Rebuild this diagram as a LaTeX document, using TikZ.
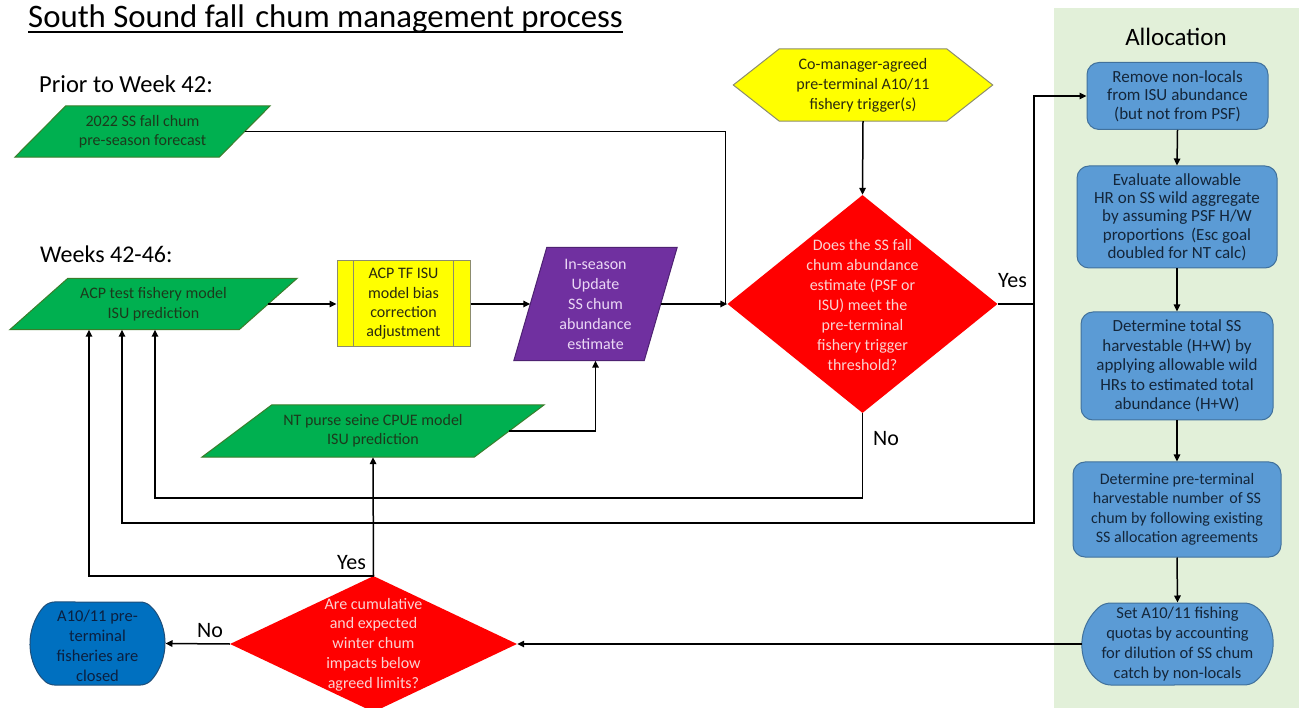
\documentclass[tikz,border=0pt]{standalone}
\usepackage{fontspec}
\setmainfont{Carlito}
\usetikzlibrary{shapes.geometric,shapes.misc,arrows.meta,backgrounds,calc}
\definecolor{gfill}{HTML}{00B050}
\definecolor{gdraw}{HTML}{3A7D2A}
\definecolor{gtext}{HTML}{1C3A1C}
\definecolor{yfill}{HTML}{FFFF00}
\definecolor{ydraw}{HTML}{8C8C6E}
\definecolor{ytext}{HTML}{2A2A10}
\definecolor{pfill}{HTML}{7030A0}
\definecolor{pdraw}{HTML}{4E2272}
\definecolor{ptext}{HTML}{EBD8F5}
\definecolor{rfill}{HTML}{FF0000}
\definecolor{rtext}{HTML}{FAD2D2}
\definecolor{bfill}{HTML}{5B9BD5}
\definecolor{bdraw}{HTML}{41719C}
\definecolor{btext}{HTML}{14263A}
\definecolor{cfill}{HTML}{0070C0}
\definecolor{cdraw}{HTML}{1F4E79}
\definecolor{ctext}{HTML}{0B2040}
\definecolor{abg}{HTML}{E2F0D9}
\newcommand\fsz[2]{\fontsize{#1}{#2}\selectfont}
\newcommand\drawpara[3]{\path[#3] ([xshift=-#2]#1.south west) -- ([xshift=#2]#1.north west) -- ([xshift=#2]#1.north east) -- ([xshift=-#2]#1.south east) -- cycle;}
\begin{document}
\begin{tikzpicture}[x=1pt,y=-1pt,
  conn/.style={draw=black,line width=1.5pt},
  arr/.style={draw=black,line width=1.5pt,-{Triangle[length=7pt,width=6.5pt]}},
  body/.style={font=\fsz{16}{19.5},align=center,inner sep=0pt},
  para/.style={body,text=gtext},
  bbox/.style={rectangle,rounded corners=12pt,fill=bfill,draw=bdraw,line width=1pt,body,text=btext},
  lbl/.style={anchor=base west,inner sep=0pt,font=\fsz{22}{26}}
]
\useasboundingbox (0,0) rectangle (1299,708);
% allocation panel
\node[anchor=north west,fill=abg,minimum width=245,minimum height=700,inner sep=0pt] (alloc) at (1054,8) {};
\node[font=\fsz{25}{30},inner sep=0pt] (alloct) at (1176,37) {Allocation};
% titles
\node[anchor=base west,inner sep=0pt,font=\fsz{32.8}{38}] (title) at (28,28) {South Sound fall\hspace{3pt} chum management process};
\draw[line width=1.5pt] ([yshift=-4pt]title.base west) -- ([yshift=-4pt]title.base east);
\node[anchor=base west,inner sep=0pt,font=\fsz{24.5}{29}] (prior) at (39,93) {Prior to Week 42:};
\node[anchor=base west,inner sep=0pt,font=\fsz{24}{29}] (weeks) at (40,263) {Weeks 42-46:};
% parallelogram nodes
\node[para,minimum width=204,minimum height=51] (fc) at (142.5,131.5) {2022 SS fall chum\\pre-season forecast};
\node[para,minimum width=229,minimum height=51] (acp) at (153.5,304) {ACP test fishery model\\ISU prediction};
\node[para,font=\fsz{16}{19},minimum width=272,minimum height=52] (nt) at (373,431) {NT purse seine CPUE model\\ISU prediction};
\node[body,text=ptext,font=\fsz{16}{20},minimum width=130,minimum height=113] (pu) at (595.5,304) {In-season\\Update\\SS chum\\abundance\\estimate};
% yellow process box
\node[body,text=ytext,font=\fsz{16}{19.3},fill=yfill,draw=ydraw,line width=1pt,minimum width=133,minimum height=86] (yb) at (403.5,304) {ACP TF ISU\\model bias\\correction\\adjustment};
\draw[draw=ydraw,line width=1pt] ([xshift=17pt]yb.north west) -- ([xshift=17pt]yb.south west) ([xshift=-17pt]yb.north east) -- ([xshift=-17pt]yb.south east);
% hexagon
\node[body,text=ytext,font=\fsz{16}{20},minimum width=167,minimum height=72] (hx) at (863,85) {Co-manager-agreed\\pre-terminal A10/11\\fishery trigger(s)};
% diamonds
\node[diamond,fill=rfill,minimum width=270,minimum height=218,inner sep=0pt] (d1) at (862.5,304) {};
\node[body,text=rtext,font=\fsz{16}{20}] (d1t) at (862.5,305) {Does the SS fall\\chum abundance\\estimate (PSF or\\ISU) meet the\\pre-terminal\\fishery trigger\\threshold?};
\node[diamond,fill=rfill,minimum width=287,minimum height=136,inner sep=0pt] (d2) at (373.5,644) {};
\node[body,text=rtext,font=\fsz{16}{19.7}] (d2t) at (373.5,644.5) {Are cumulative\\and expected\\winter chum\\impacts below\\agreed limits?};
% closed box
\node[rounded rectangle,rounded rectangle arc length=100,rounded corners=5pt,fill=cfill,draw=cdraw,line width=1pt,minimum width=135,minimum height=83,inner sep=0pt] (cl) at (97.5,643.5) {};
\node[body,text=ctext,font=\fsz{16.5}{20}] (clt) at (97.5,645.5) {A10/11 pre-\\terminal\\fisheries are\\closed};
% allocation boxes
\node[bbox,font=\fsz{17}{18.7},minimum width=181,minimum height=67] (b1) at (1177.5,96) {Remove non-locals\\from ISU abundance\\(but not from PSF)};
\node[bbox,font=\fsz{17}{18.3},minimum width=200,minimum height=102] (b2) at (1177,217) {Evaluate allowable\\HR on SS wild aggregate\\by assuming PSF H/W\\proportions\hspace{3pt} (Esc goal\\doubled for NT calc)};
\node[bbox,font=\fsz{17}{19.5},minimum width=192,minimum height=108] (b3) at (1177,366) {Determine total SS\\harvestable (H+W) by\\applying allowable wild\\HRs to estimated total\\abundance (H+W)};
\node[bbox,font=\fsz{16}{19.5},minimum width=208,minimum height=95] (b4) at (1177,509.5) {Determine pre-terminal\\harvestable number\hspace{2pt} of SS\\chum by following existing\\SS allocation agreements};
\node[rounded rectangle,rounded rectangle arc length=120,rounded corners=5pt,fill=bfill,draw=bdraw,line width=1pt,minimum width=191,minimum height=82,inner sep=0pt] (b5) at (1177.5,644) {};
\node[body,text=btext,font=\fsz{16.5}{20}] (b5t) at (1177.5,644) {Set A10/11 fishing\\quotas by accounting\\for dilution of SS chum\\catch by non-locals};
% background shapes
\begin{scope}[on background layer]
\drawpara{fc}{25.5pt}{fill=gfill,draw=gdraw,line width=1pt}
\drawpara{acp}{29pt}{fill=gfill,draw=gdraw,line width=1pt}
\drawpara{nt}{35pt}{fill=gfill,draw=gdraw,line width=1pt}
\drawpara{pu}{16.5pt}{fill=pfill,draw=pdraw,line width=1pt}
\path[fill=yfill,draw=ydraw,line width=1pt] (hx.north west) -- (hx.north east) -- ([xshift=46pt]hx.east) -- (hx.south east) -- (hx.south west) -- ([xshift=-46pt]hx.west) -- cycle;
\end{scope}
% connectors
\coordinate (yj) at (1034,304);
\coordinate (ybot) at (1034,523);
\coordinate (nbot) at (862.5,498);
\draw[arr] (hx.south) -- (d1.north);
\draw[conn] (fc.east) -| ([xshift=-2pt]d1.west);
\draw[arr] (acp.east) -- (yb.west);
\draw[arr] (yb.east) -- (pu.west);
\draw[arr] (pu.east) -- (d1.west);
\draw[arr] (d1.east) -- (yj) |- (b1.west);
\draw[arr] (yj) -- (ybot) -| ([xshift=-31.5pt]acp.south);
\draw[arr] (d1.south) -- (nbot) -| ([xshift=1.5pt]acp.south);
\draw[arr] (d2.north) -| ([xshift=-64.5pt]acp.south);
\draw[arr] (d2.north) -- (nt.south);
\draw[arr] (nt.east) -| (pu.south);
\draw[arr] (b5.west) -- (d2.east);
\draw[arr] (d2.west) -- (cl.east);
\draw[arr] (b1.south) -- (b2.north);
\draw[arr] (b2.south) -- (b3.north);
\draw[arr] (b3.south) -- (b4.north);
\draw[arr] (b4.south) -- (b5.north);
% labels
\node[lbl] (yes1) at (998,288) {Yes};
\node[lbl] (no1) at (873,446) {No};
\node[lbl] (yes2) at (337,569) {Yes};
\node[lbl] (no2) at (197,637) {No};
\end{tikzpicture}
\end{document}
